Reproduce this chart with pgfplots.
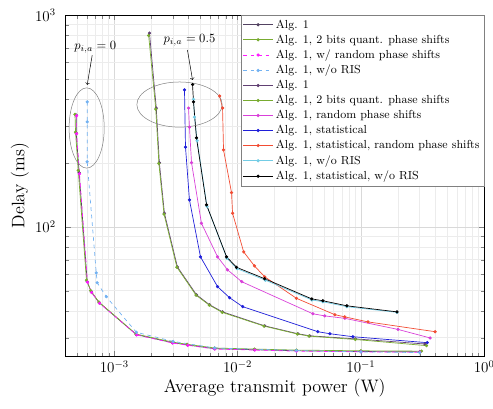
\documentclass[border=0pt]{standalone}
\usepackage{pgfplots}
\pgfplotsset{compat=1.18}
\definecolor{cA}{rgb}{0.32,0.26,0.38}
\definecolor{cG}{rgb}{0.47,0.67,0.19}
\definecolor{cM}{rgb}{1,0.1,1}
\definecolor{cL}{rgb}{0.45,0.7,0.95}
\definecolor{cP}{rgb}{0.38,0.25,0.45}
\definecolor{cM2}{rgb}{0.85,0.25,0.85}
\definecolor{cB}{rgb}{0.12,0.12,0.85}
\definecolor{cR}{rgb}{0.95,0.3,0.2}
\definecolor{cT}{rgb}{0.45,0.8,0.9}
\begin{document}
\begin{tikzpicture}
\begin{axis}[
  scale only axis, width=334pt, height=272pt,
  xmode=log, ymode=log,
  xmin=4e-4, xmax=1, ymin=24.5, ymax=1000,
  grid=both, major grid style={gray!30}, minor grid style={gray!15},
  tick align=inside,
  tick label style={font=\large},
  yticklabel style={xshift=-4pt},
  xlabel={\Large Average transmit power (W)},
  ylabel={\Large Delay (ms)},
  xlabel style={yshift=2pt},
  ylabel style={yshift=-2pt},
  legend style={at={(1,1)}, anchor=north east, draw=gray, font=\fontsize{9.3}{11}\selectfont, row sep=-0.2pt, inner sep=1.5pt},
  legend cell align=left,
  legend image code/.code={\draw[mark repeat=2,mark phase=2] plot coordinates {(0cm,0cm) (0.42cm,0cm) (0.84cm,0cm)};},
  every axis plot/.append style={line width=0.55pt, mark=*, mark size=1pt},
]
% p = 0
\addplot[cA, mark options={fill=cA}] coordinates {(4.91e-4,337) (4.91e-4,277) (5.19e-4,180) (6.03e-4,55.1) (6.5e-4,49.3) (7.55e-4,43.8) (1.51e-3,31.0) (2.96e-3,28.4) (3.92e-3,27.7) (6.5e-3,26.6) (0.0137,26.3) (0.03,26.0) (0.1,25.8) (0.30,25.7)};
\addlegendentry{Alg. 1}
\addplot[cG, mark options={fill=cG}] coordinates {(4.8e-4,340) (4.85e-4,280) (5.1e-4,185) (5.95e-4,56) (6.45e-4,50) (7.5e-4,44.2) (1.5e-3,31.2) (2.95e-3,28.6) (3.9e-3,27.9) (6.5e-3,26.8) (0.0137,26.5) (0.03,26.2) (0.1,26.0) (0.31,25.9)};
\addlegendentry{Alg. 1, 2 bits quant. phase shifts}
\addplot[cM, dashed, mark options={solid, fill=cM}] coordinates {(4.95e-4,335) (4.95e-4,275) (5.22e-4,178) (6.06e-4,54.8) (6.55e-4,49.0) (7.6e-4,43.6) (1.52e-3,30.9) (2.97e-3,28.3) (3.95e-3,27.6) (6.55e-3,26.5) (0.0138,26.2) (0.03,25.9) (0.1,25.7) (0.30,25.6)};
\addlegendentry{Alg. 1, w/ random phase shifts}
\addplot[cL, dashed, mark options={solid, fill=cL}] coordinates {(6.03e-4,389) (6.03e-4,313) (6.03e-4,203) (7.14e-4,60.7) (7.27e-4,54.5) (8.61e-4,46.8) (1.51e-3,31.8) (3.0e-3,28.8) (6.5e-3,26.8) (0.03,26.1) (0.1,25.7) (0.30,25.5)};
\addlegendentry{Alg. 1, w/o RIS}
% p = 0.5
\addplot[cP, mark options={fill=cP}] coordinates {(1.93e-3,822) (2.19e-3,364) (2.32e-3,201) (2.55e-3,116) (3.25e-3,64.7) (4.64e-3,47.8) (5.92e-3,42.9) (7.55e-3,39.7) (0.0166,34.1) (0.0308,31.3) (0.0385,30.6) (0.09,29.6) (0.33,28.0)};
\addlegendentry{Alg. 1}
\addplot[cG, mark options={fill=cG}] coordinates {(1.9e-3,800) (2.17e-3,360) (2.3e-3,199) (2.53e-3,115) (3.22e-3,64.5) (4.6e-3,47.6) (5.9e-3,42.7) (7.5e-3,39.5) (0.0164,34.0) (0.0305,31.2) (0.038,30.5) (0.09,29.4) (0.34,27.5)};
\addlegendentry{Alg. 1, 2 bits quant. phase shifts}
\addplot[cM2, mark options={fill=cM2}] coordinates {(4.0e-3,364) (4.07e-3,296) (4.23e-3,201) (5.09e-3,104) (6.88e-3,72.2) (8.29e-3,62.7) (0.0108,55.1) (0.0407,38.9) (0.0509,38.0) (0.0741,37.0) (0.2,32.8) (0.364,29.9)};
\addlegendentry{Alg. 1, random phase shifts}
\addplot[cB, mark options={fill=cB}] coordinates {(3.71e-3,443) (3.78e-3,238) (4.07e-3,134) (5.0e-3,72.2) (6.88e-3,52.2) (8.61e-3,46.3) (0.011,42.0) (0.0447,32.0) (0.056,31.3) (0.0861,30.3) (0.345,28.4)};
\addlegendentry{Alg. 1, statistical}
\addplot[cR, mark options={fill=cR}] coordinates {(7.14e-3,415) (7.55e-3,364) (7.69e-3,231) (8.93e-3,145) (9.1e-3,116) (0.0112,76.2) (0.0137,65.4) (0.0166,58.1) (0.03,46.0) (0.0615,38.5) (0.0741,37.6) (0.114,35.6) (0.40,32.0)};
\addlegendentry{Alg. 1, statistical, random phase shifts}
\addplot[cT, mark options={fill=cT}] coordinates {(4.39e-3,400) (4.47e-3,330) (4.7e-3,255) (5.65e-3,125) (8.2e-3,71) (9.9e-3,63.5) (0.0168,56) (0.04,45.2) (0.0491,44.3) (0.0769,42.0) (0.196,39.5)};
\addlegendentry{Alg. 1, w/o RIS}
\addplot[black, mark options={fill=black}] coordinates {(4.31e-3,470) (4.39e-3,389) (4.64e-3,263) (5.6e-3,127) (8.14e-3,72.2) (9.81e-3,64.4) (0.0166,56.9) (0.04,45.7) (0.0491,44.8) (0.0769,42.4) (0.196,39.7)};
\addlegendentry{Alg. 1, statistical, w/o RIS}
% annotations
\draw[gray, thin] (axis cs:5.97e-4,293) ellipse [x radius=14pt, y radius=32pt];
\draw[gray, thin] (axis cs:3.38e-3,378) ellipse [x radius=34pt, y radius=18pt];
\node[font=\normalsize] at (axis cs:7.01e-4,706) {$p_{i,a}=0$};
\draw[->, thin] (axis cs:6.62e-4,647) -- (axis cs:6.03e-4,468);
\node[font=\normalsize] at (axis cs:4.07e-3,762) {$p_{i,a}=0.5$};
\draw[->, thin] (axis cs:3.92e-3,684) -- (axis cs:4.31e-3,494);
\end{axis}
\pgfresetboundingbox
\path (current axis.south west) ++(-52pt,-42pt) rectangle ([shift={(7pt,12pt)}]current axis.north east);
\end{tikzpicture}
\end{document}
